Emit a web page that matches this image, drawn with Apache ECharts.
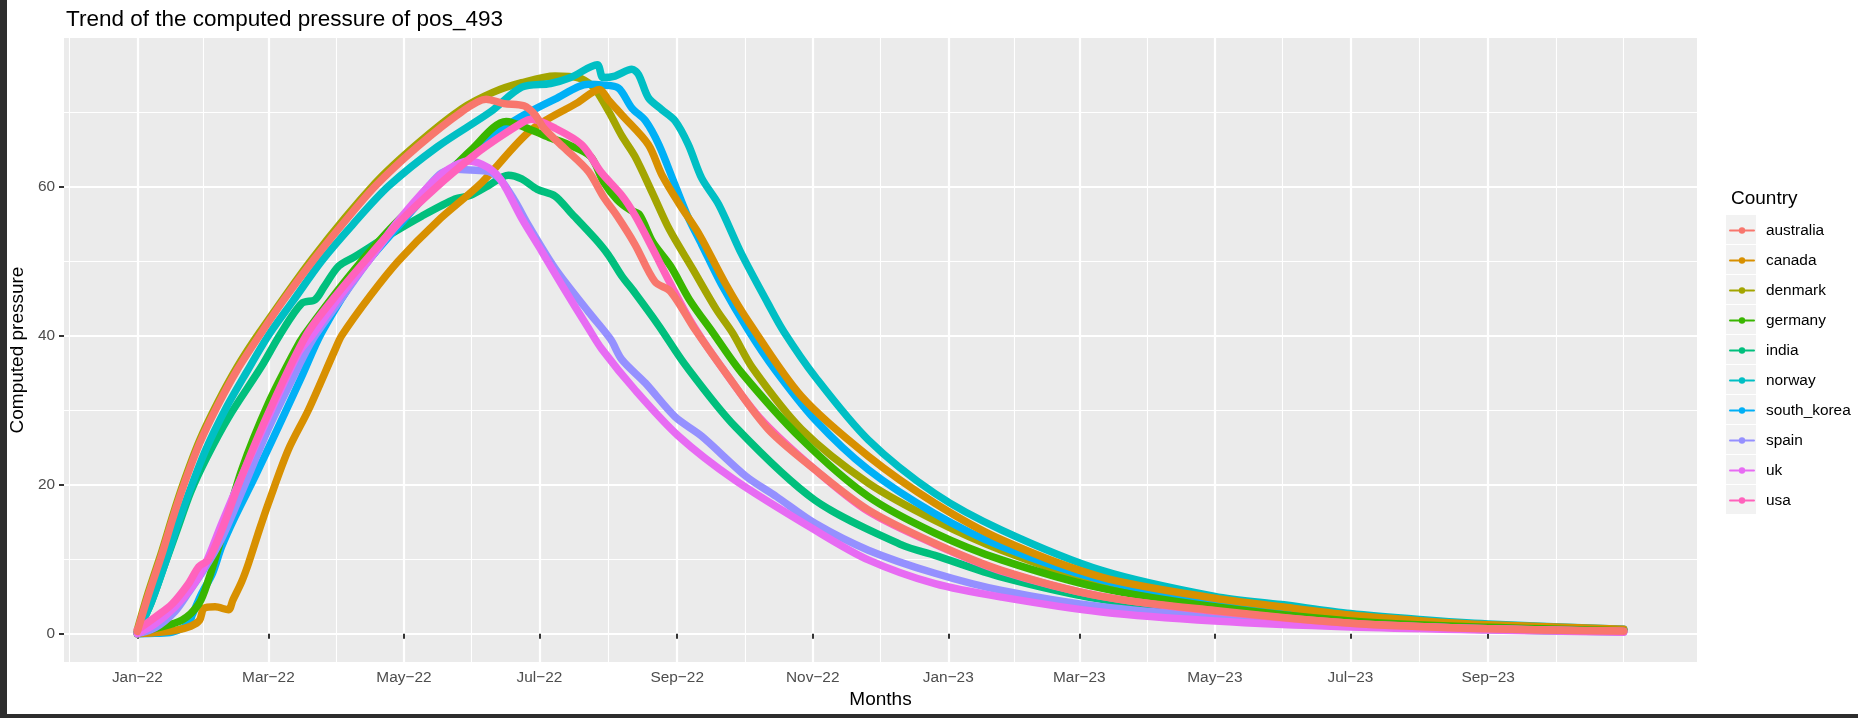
<!DOCTYPE html>
<html>
<head>
<meta charset="utf-8">
<title>Trend of the computed pressure of pos_493</title>
<script src="https://cdn.jsdelivr.net/npm/echarts@6/dist/echarts.min.js"></script>
<style>
  html, body { margin: 0; padding: 0; background: #fff; }
  #chart { position: absolute; left: 0; top: 0; width: 1858px; height: 718px; }
  .edge { position: absolute; background: #2d2d2d; }
</style>
</head>
<body>
<div id="chart"></div>
<div class="edge" style="left:0;top:0;width:7px;height:718px"></div>
<div class="edge" style="left:0;top:714px;width:1858px;height:4px"></div>
<script>
// legend order (alphabetical, like ggplot) and hue colours
const countries = ['australia', 'canada', 'denmark', 'germany', 'india', 'norway', 'south_korea', 'spain', 'uk', 'usa'];
const colors = ['#F8766D', '#D89000', '#A3A500', '#39B600', '#00BF7D', '#00BFC4', '#00B0F6', '#9590FF', '#E76BF3', '#FF62BC'];
// which one ends up on top in the picture
const drawOrder = ['india', 'denmark', 'norway', 'south_korea', 'canada', 'germany', 'spain', 'uk', 'usa', 'australia'];

// x ticks (labelled every 2 months) and y ticks
const majorBreaks = ['2022-01-01', '2022-03-01', '2022-05-01', '2022-07-01', '2022-09-01', '2022-11-01',
  '2023-01-01', '2023-03-01', '2023-05-01', '2023-07-01', '2023-09-01'];
const yBreaks = [0, 20, 40, 60];
const yMinorBreaks = [10, 30, 50, 70];

// [days since 2022-01-01, computed pressure]
const australia = [[0, 0.3], [5, 5.2], [11, 10.6], [16, 15.5], [21, 20], [28, 25.5], [36, 30.5], [45, 35.4], [55, 40], [66, 44.8], [79, 50], [92, 54.8], [107, 60], [126, 65.3], [146, 70], [157, 71.7], [165, 71.1], [174, 70.8], [179, 69.6], [183, 67.8], [192, 65.2], [203, 62], [210, 58.5], [216, 56], [224, 52.2], [233, 47.2], [240, 45.9], [251, 40.8], [266, 34.5], [284, 27.4], [305, 22], [329, 16.6], [359, 12.1], [389, 8.5], [434, 5], [485, 3.1], [546, 1.4], [608, 0.65], [669, 0.35]];
const canada = [[0, 0], [10, 0.2], [17, 0.45], [24, 1], [28, 1.8], [30, 3.4], [35, 3.6], [41, 3.2], [43, 4.5], [47, 7], [50, 9.4], [55, 14], [59, 17.5], [68, 24.7], [77, 30], [89, 38.1], [92, 40], [105, 45.4], [117.5, 50], [135, 55.3], [155, 60.5], [177, 67.5], [198, 71.2], [208, 73], [212, 71.6], [218, 69.6], [230, 65.6], [236, 61.6], [244, 57.6], [253, 53.5], [265, 46.8], [275, 41.9], [299, 31.8], [329, 23.8], [359, 17.5], [389, 12.6], [434, 7.6], [485, 4.75], [515, 3.6], [546, 2.5], [577, 1.75], [608, 1.2], [669, 0.6]];
const denmark = [[0, 0.5], [5, 5.6], [11, 11], [16, 15.9], [21, 20.4], [28, 25.9], [36, 30.9], [45, 35.8], [55, 40.4], [79, 50.4], [107, 60.4], [126, 65.7], [146, 70.4], [160, 72.6], [173, 73.9], [188, 74.8], [198, 74.6], [205, 73.4], [209, 71.7], [213, 69.6], [218, 66.8], [224, 64], [232, 59], [239.5, 54.2], [250, 48.9], [260.6, 43.5], [268, 40.3], [277, 35.6], [299, 27.4], [329, 20.2], [359, 15.2], [389, 11.2], [434, 6.7], [485, 4.0], [546, 2.0], [608, 1.0], [669, 0.5]];
const germany = [[0, 0], [8, 0.7], [20, 1.8], [27.7, 4], [32, 7.2], [38, 13], [47, 22], [59, 30.9], [71, 38], [75, 40], [88, 45.2], [101, 50], [117, 55.3], [134, 60], [150, 64.8], [166, 68.7], [177, 67.6], [186, 66.5], [194, 65.6], [204, 64], [210, 60.5], [216, 58.2], [222, 56.8], [226, 56.2], [232, 52.5], [240, 49.3], [248.5, 44.8], [259, 40.4], [272, 35], [299, 26.1], [329, 18.4], [359, 13.5], [389, 9.9], [434, 6.1], [485, 3.6], [546, 1.7], [608, 0.85], [669, 0.4]];
const india = [[0, 0.2], [6, 4], [12, 9], [18, 14], [24, 19], [31, 23.5], [41, 29], [56, 35.9], [64, 40], [74, 44.3], [80, 44.8], [84, 46.5], [90.6, 49.3], [98, 50.6], [113, 53.4], [128, 56], [143, 58.3], [150, 58.8], [158, 60.1], [167, 61.5], [173, 61], [180, 59.6], [188, 58.7], [195, 56.5], [206, 53], [212, 50.8], [218, 48], [224, 45.7], [234.5, 41.4], [247, 35.9], [269, 27.8], [305, 17.9], [344, 11.9], [359, 10.5], [389, 7.6], [434, 4.6], [485, 2.7], [546, 1.2], [608, 0.55], [669, 0.25]];
const norway = [[0, 0.2], [6, 4], [12, 9], [18, 14.5], [24, 19.5], [31, 24.8], [40, 30.3], [49, 35], [59, 40], [70, 44.6], [83, 50], [97, 54.9], [113, 60], [135, 65.3], [159, 70], [173, 73.3], [186, 73.8], [195, 74.6], [207, 76.3], [209.6, 74.6], [215, 74.8], [222.6, 75.7], [225.6, 75], [230, 71.9], [236, 70.3], [242, 68.8], [248, 65.6], [254, 61.1], [261.6, 57.6], [272, 50.9], [284, 44.2], [291, 40.5], [305, 34.5], [329, 26], [359, 18.8], [389, 13.9], [434, 8.5], [485, 5.0], [515, 3.9], [546, 2.7], [577, 1.9], [608, 1.3], [669, 0.6]];
const south_korea = [[0, 0], [8, 0.05], [15.7, 0.2], [23, 1.3], [24.7, 2.5], [29, 5.4], [33.7, 8], [38, 11.7], [44, 15.7], [53, 21.1], [63.6, 27.8], [74, 34.5], [83, 40.4], [100, 48.5], [120, 55.5], [140, 62], [152, 65], [158, 66.5], [173, 69.4], [188, 71.7], [203, 73.7], [209, 73.6], [216.5, 73.2], [222.6, 70.5], [228.7, 68.8], [234.7, 65.6], [242, 60.2], [248, 55.8], [254, 52.2], [263, 46.8], [275, 40.7], [287, 35.4], [305, 28.7], [329, 22], [359, 16.1], [389, 11.7], [434, 7.2], [485, 4.3], [546, 2.2], [608, 1.1], [669, 0.55]];
const spain = [[0, 0], [8, 0.8], [17, 3], [23, 5.5], [30, 8.6], [38, 12.8], [47, 19], [59, 27.5], [72, 35.5], [79, 39.5], [92, 45], [104, 50], [120, 56], [131, 60], [137, 61.8], [143, 62.3], [150, 62.2], [158, 62], [164, 60.7], [170, 58], [176, 54.8], [188, 49], [203, 43.2], [213, 39.5], [218, 36.8], [228.7, 33.6], [242, 29.1], [254, 26.5], [274, 21.1], [287.6, 18.4], [305, 14.8], [329, 11.2], [359, 8.1], [389, 5.8], [434, 3.6], [485, 2.3], [546, 1.25], [608, 0.65], [669, 0.3]];
const uk = [[0, 0], [8, 1.3], [17, 3.6], [24.7, 6.3], [30.7, 9.4], [38, 14.8], [47, 21.1], [59, 29.1], [72.6, 37.7], [78.6, 40], [91, 45.2], [104, 50], [117, 55.2], [131, 60], [140, 62.3], [149, 63.4], [158, 62.5], [164, 60.7], [173, 55.7], [182, 51.3], [191, 46.8], [203, 41], [209, 38.2], [224, 32.7], [243.6, 26.5], [269, 20.6], [305, 13.9], [329, 9.9], [359, 6.7], [389, 4.9], [434, 2.9], [485, 1.7], [546, 0.9], [608, 0.5], [669, 0.2]];
const usa = [[0, 0.5], [8, 2.2], [15.7, 4], [23, 6.7], [27.7, 9], [32, 9.9], [38, 13.9], [47, 21.1], [59, 29.6], [76, 40], [89, 45.2], [102.5, 50], [118, 55.2], [135, 60], [150, 63.8], [158, 65.6], [173, 68.5], [177.4, 69], [188, 67.8], [200, 65.6], [209, 61.8], [218, 58.8], [224, 56.1], [232, 51.6], [239.5, 47.2], [248.5, 42.2], [260, 37], [280, 29], [305, 22], [329, 16.4], [359, 12], [389, 8.4], [434, 5.0], [485, 3.0], [546, 1.4], [608, 0.65], [669, 0.3]];

const seriesData = { australia, canada, denmark, germany, india, norway, south_korea, spain, uk, usa };

(function () {
    const font = '"Liberation Sans", Arial, Helvetica, sans-serif';
    const START = Date.UTC(2022, 0, 1);
    const DAY = 86400000;
    const toTime = d => START + d * DAY;
    const monthNames = ['Jan', 'Feb', 'Mar', 'Apr', 'May', 'Jun', 'Jul', 'Aug', 'Sep', 'Oct', 'Nov', 'Dec'];

    const majorTimes = majorBreaks.map(s => Date.parse(s));
    // ggplot puts minor lines half way between the breaks, one step past each end too,
    // and the picture has one more faint line where the data stops
    const allBreaks = [Date.parse('2021-11-01')].concat(majorTimes, [Date.parse('2023-11-01')]);
    const minorTimes = [];
    for (let i = 1; i < allBreaks.length; i++) {
        minorTimes.push((allBreaks[i - 1] + allBreaks[i]) / 2);
    }
    minorTimes.push(Date.parse('2023-11-01'));

    const formatMonth = (v) => {
        const d = new Date(v);
        return monthNames[d.getUTCMonth()] + '\u2212' + String(d.getUTCFullYear()).slice(2);
    };

    const xMin = toTime(-33);
    const xMax = toTime(702);
    const yMin = -3.8;
    const yMax = 79.9;

    // legend rows: first key centred at y=229.5, one row every 30px
    const legendTop = 223;
    const firstRowMid = 229.5;
    const rowStep = 30;
    const keyRects = countries.map((c, i) => ({
        type: 'rect',
        z: -1,
        silent: true,
        shape: { x: 1726, y: firstRowMid - rowStep / 2 + 0.5 + i * rowStep, width: 30, height: rowStep - 1 },
        style: { fill: '#F2F2F2' }
    }));

    const chart = echarts.init(document.getElementById('chart'), null, { renderer: 'canvas' });

    const option = {
        animation: false,
        backgroundColor: '#ffffff',
        textStyle: { fontFamily: font },
        title: [
            {
                text: 'Trend of the computed pressure of pos_493',
                left: 61, top: 3,
                textStyle: { fontSize: 22.5, fontWeight: 'normal', color: '#000', fontFamily: font }
            },
            {
                text: 'Country',
                left: 1726, top: 184,
                textStyle: { fontSize: 19, fontWeight: 'normal', color: '#000', fontFamily: font }
            }
        ],
        grid: {
            left: 61, right: 161, top: 38, bottom: 56,
            show: true, backgroundColor: '#EBEBEB', borderWidth: 0
        },
        legend: {
            data: countries,
            orient: 'vertical',
            left: 1729, top: legendTop,
            padding: 0,
            itemWidth: 24, itemHeight: 8, itemGap: 15,
            selectedMode: false,
            lineStyle: { width: 2 },
            textStyle: { fontSize: 15.4, color: '#000', fontFamily: font, lineHeight: 8, padding: [0, 0, 0, 7] }
        },
        graphic: keyRects,
        xAxis: [
            {
                type: 'value', min: xMin, max: xMax,
                name: 'Months', nameLocation: 'middle', nameGap: 27,
                nameTextStyle: { fontSize: 19, color: '#000', fontFamily: font },
                axisLine: { show: false },
                axisTick: { show: true, customValues: majorTimes, length: 5, lineStyle: { color: '#333333', width: 2 } },
                axisLabel: { customValues: majorTimes, formatter: formatMonth, fontSize: 15.4, color: '#4D4D4D', margin: 8, fontFamily: font },
                splitLine: { show: true, lineStyle: { color: '#ffffff', width: 2.2 } }
            },
            {
                type: 'value', min: xMin, max: xMax, position: 'bottom',
                axisLine: { show: false },
                axisTick: { show: false, customValues: minorTimes },
                axisLabel: { show: false },
                splitLine: { show: true, lineStyle: { color: '#ffffff', width: 1.1 } }
            }
        ],
        yAxis: [
            {
                type: 'value', min: yMin, max: yMax,
                name: 'Computed pressure', nameLocation: 'middle', nameRotate: 90, nameGap: 27,
                nameTextStyle: { fontSize: 19, color: '#000', fontFamily: font },
                axisLine: { show: false },
                axisTick: { show: true, customValues: yBreaks, length: 5, lineStyle: { color: '#333333', width: 2 } },
                axisLabel: { customValues: yBreaks, fontSize: 15.4, color: '#4D4D4D', margin: 9, fontFamily: font },
                splitLine: { show: true, lineStyle: { color: '#ffffff', width: 2.2 } }
            },
            {
                type: 'value', min: yMin, max: yMax, position: 'left',
                axisLine: { show: false },
                axisTick: { show: false, customValues: yMinorBreaks },
                axisLabel: { show: false },
                splitLine: { show: true, lineStyle: { color: '#ffffff', width: 1.1 } }
            }
        ],
        series: drawOrder.map(name => ({
            name: name,
            type: 'line',
            xAxisIndex: 0,
            yAxisIndex: 0,
            data: seriesData[name].map(p => [toTime(p[0]), p[1]]),
            color: colors[countries.indexOf(name)],
            symbol: 'circle',
            symbolSize: 6,
            showSymbol: false,
            smooth: 0.3,
            lineStyle: { width: 7.5, cap: 'round', join: 'round' },
            emphasis: { disabled: true },
            silent: true
        }))
    };

    chart.setOption(option);
})();
</script>
</body>
</html>
